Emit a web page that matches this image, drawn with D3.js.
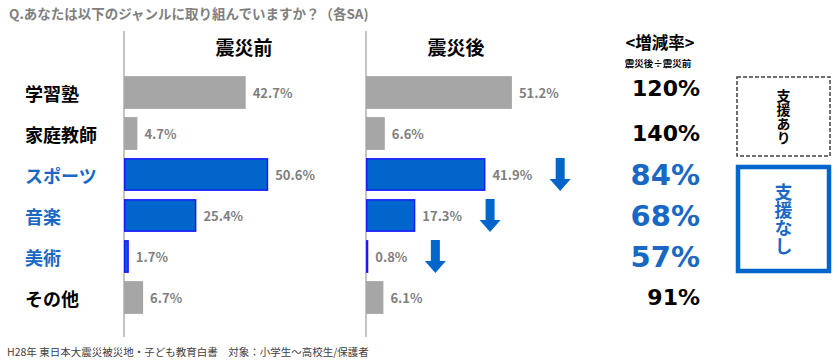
<!DOCTYPE html>
<html>
<head>
<meta charset="utf-8">
<script src="https://cdnjs.cloudflare.com/ajax/libs/d3/7.8.5/d3.min.js"></script>
<style>
  body { margin: 0; background: #fff; }
  svg { display: block; }
  text { font-family: "Noto Sans CJK JP", "Noto Sans", sans-serif; }
</style>
</head>
<body>
<svg id="chart" width="838" height="364"></svg>
<script>
// data
var categories = ["学習塾", "家庭教師", "スポーツ", "音楽", "美術", "その他"];
var before = [42.7, 4.7, 50.6, 25.4, 1.7, 6.7];
var after = [51.2, 6.6, 41.9, 17.3, 0.8, 6.1];
var rateLabels = ["120%", "140%", "84%", "68%", "57%", "91%"];
var noSupport = [false, false, true, true, true, false];

var blue = "#0066cc";
var textBlue = "#1868c4";
var gray = "#a6a6a6";

var svg = d3.select("#chart");

// title + footer
svg.append("text")
  .attr("x", 9).attr("y", 19)
  .style("font-size", "13.5px").style("font-weight", "bold")
  .attr("fill", "#7f7f7f")
  .text("Q.あなたは以下のジャンルに取り組んでいますか？（各SA)");

svg.append("text")
  .attr("x", 7).attr("y", 356)
  .style("font-size", "10.5px")
  .attr("fill", "#404040")
  .text("H28年 東日本大震災被災地・子ども教育白書　対象：小学生～高校生/保護者");

var y = d3.scaleBand()
  .domain(categories)
  .range([72, 318])
  .paddingInner(0.2)
  .paddingOuter(0.1);

var x = d3.scaleLinear().domain([0, 100]).range([0, 285]);

// category labels
svg.selectAll(".cat")
  .data(categories)
  .enter()
  .append("text")
  .attr("class", "cat")
  .attr("x", 25)
  .attr("y", function(d){ return y(d) + y.bandwidth() / 2; })
  .attr("dominant-baseline", "central")
  .style("font-size", "18px").style("font-weight", "bold")
  .attr("fill", function(d, i){ return noSupport[i] ? textBlue : "#000"; })
  .text(function(d){ return d; });

function panel(x0, values, title, titleX, withArrows){
  var g = svg.append("g").attr("transform", "translate(" + x0 + ",0)");

  g.append("line")
    .attr("x1", 0).attr("x2", 0)
    .attr("y1", 31).attr("y2", 337)
    .attr("stroke", "#b0b0b0").attr("stroke-width", 1.5);

  g.append("text")
    .attr("x", titleX).attr("y", 46)
    .attr("text-anchor", "middle")
    .attr("dominant-baseline", "central")
    .style("font-size", "19px").style("font-weight", "bold")
    .text(title);

  g.selectAll(".bar")
    .data(values)
    .enter()
    .append("rect")
    .attr("class", "bar")
    .attr("x", function(d, i){ return noSupport[i] ? 0.75 : 0; })
    .attr("y", function(d, i){ return y(categories[i]) + (noSupport[i] ? 0.75 : 0); })
    .attr("width", function(d, i){ return x(d) - (noSupport[i] ? 1.5 : 0); })
    .attr("height", function(d, i){ return y.bandwidth() - (noSupport[i] ? 1.5 : 0); })
    .attr("fill", function(d, i){ return noSupport[i] ? blue : gray; })
    .attr("stroke", function(d, i){ return noSupport[i] ? "#1a1aff" : "none"; })
    .attr("stroke-width", 1.5);

  var labels = g.selectAll(".val")
    .data(values)
    .enter()
    .append("text")
    .attr("class", "val")
    .attr("x", function(d){ return x(d) + 7; })
    .attr("y", function(d, i){ return y(categories[i]) + y.bandwidth() / 2; })
    .attr("dominant-baseline", "central")
    .style("font-size", "13px").style("font-weight", "bold")
    .attr("fill", "#7f7f7f")
    .text(function(d){ return d.toFixed(1) + "%"; });

  if (withArrows) {
    labels.each(function(d, i){
      if (!noSupport[i]) return;
      var cx = x(d) + 7 + this.getComputedTextLength() + 28;
      var top = y(categories[i]);
      var h = y.bandwidth();
      var sw = 4.5, hw = 10.5, hh = 12;
      var p = [
        [cx - sw, top], [cx + sw, top], [cx + sw, top + h - hh],
        [cx + hw, top + h - hh], [cx, top + h], [cx - hw, top + h - hh],
        [cx - sw, top + h - hh]
      ];
      g.append("path")
        .attr("d", d3.line()(p) + "Z")
        .attr("fill", blue);
    });
  }
}

panel(124, before, "震災前", 120, false);
panel(366, after, "震災後", 90, true);

// rate column
svg.append("text")
  .attr("x", 660).attr("y", 42)
  .attr("text-anchor", "middle")
  .attr("dominant-baseline", "central")
  .style("font-size", "16.5px").style("font-weight", "bold")
  .text("<増減率>");

svg.append("text")
  .attr("x", 658).attr("y", 63)
  .attr("text-anchor", "middle")
  .attr("dominant-baseline", "central")
  .style("font-size", "9.5px").style("font-weight", "bold")
  .text("震災後÷震災前");

svg.selectAll(".rate")
  .data(rateLabels)
  .enter()
  .append("text")
  .attr("class", "rate")
  .attr("x", 700)
  .attr("y", function(d, i){ return y(categories[i]) + y.bandwidth() / 2 - (i === 0 ? 4 : 0); })
  .attr("text-anchor", "end")
  .attr("dominant-baseline", "central")
  .style("font-family", "'DejaVu Sans', sans-serif")
  .style("font-size", function(d, i){ return noSupport[i] ? "29px" : "22px"; })
  .style("font-weight", "bold")
  .attr("fill", function(d, i){ return noSupport[i] ? textBlue : "#000"; })
  .text(function(d){ return d; });

// support boxes
var boxes = [
  { label: "支援あり", x: 737, y: 77, w: 93, h: 79, color: "#404040", dash: "4,2", sw: 1.5, fs: 14 },
  { label: "支援なし", x: 738, y: 167, w: 91, h: 104, color: blue, dash: null, sw: 4.5, fs: 18 }
];

boxes.forEach(function(b){
  svg.append("rect")
    .attr("x", b.x).attr("y", b.y)
    .attr("width", b.w).attr("height", b.h)
    .attr("fill", "none")
    .attr("stroke", b.color)
    .attr("stroke-width", b.sw)
    .attr("stroke-dasharray", b.dash);

  // vertical text
  svg.append("text")
    .attr("x", b.x + b.w / 2)
    .attr("y", b.y + b.h / 2)
    .attr("text-anchor", "middle")
    .style("writing-mode", "vertical-rl")
    .style("font-size", b.fs + "px").style("font-weight", "bold")
    .attr("fill", b.dash ? "#000" : textBlue)
    .text(b.label);
});
</script>
</body>
</html>
